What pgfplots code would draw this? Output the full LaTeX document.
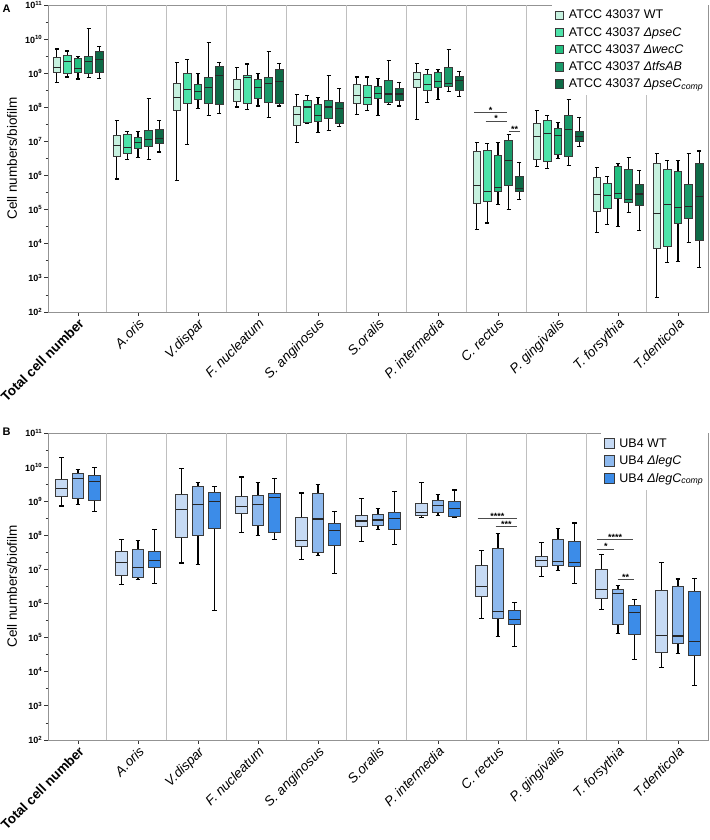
\documentclass[border=0pt]{standalone}
\usepackage{fontspec}
\setmainfont{Liberation Sans}
\usepackage{pgfplots}
\pgfplotsset{compat=1.18}
\usepgfplotslibrary{statistics}
\definecolor{cA1}{HTML}{C6F1DF}
\definecolor{cA2}{HTML}{4EE3AA}
\definecolor{cA3}{HTML}{22BF80}
\definecolor{cA4}{HTML}{1A9A6A}
\definecolor{cA5}{HTML}{0E6B47}
\definecolor{cB1}{HTML}{C6DAF4}
\definecolor{cB2}{HTML}{8EB9EE}
\definecolor{cB3}{HTML}{3C8CE8}
\definecolor{boxedge}{HTML}{3A3A3A}
% values are log10(cell numbers per biofilm)
\newcommand{\bxA}[7]{\addplot[forget plot, draw=boxedge, line width=0.9pt, fill=#2, boxplot prepared={draw direction=y, draw position=#1, lower whisker=#3, lower quartile=#4, median=#5, upper quartile=#6, upper whisker=#7, box extend=0.125, whisker extend=0.067}] coordinates {};}
\newcommand{\bxB}[7]{\addplot[forget plot, draw=boxedge, line width=0.9pt, fill=#2, boxplot prepared={draw direction=y, draw position=#1, lower whisker=#3, lower quartile=#4, median=#5, upper quartile=#6, upper whisker=#7, box extend=0.195, whisker extend=0.078}] coordinates {};}
\tikzset{
 sig/.style={draw=black!70, line width=0.7pt},
 star/.style={font=\bfseries\fontsize{9}{9}\selectfont, inner sep=0pt, anchor=base, yshift=-1pt},
}
\pgfplotsset{
 boxplot/every whisker/.style={draw=black, line width=1.1pt},
 boxplot/every median/.style={draw=black!85, line width=1.1pt},
 common/.style={
  scale only axis, width=660pt, height=307pt,
  xmin=-0.5, xmax=10.5, ymin=2, ymax=11,
  ytick={2,3,4,5,6,7,8,9,10,11},
  yticklabels={10\textsuperscript{2},10\textsuperscript{3},10\textsuperscript{4},10\textsuperscript{5},10\textsuperscript{6},10\textsuperscript{7},10\textsuperscript{8},10\textsuperscript{9},10\textsuperscript{10},10\textsuperscript{11}},
  minor y tick num=1,
  xtick={0,1,2,3,4,5,6,7,8,9,10},
  xticklabels={\textbf{Total cell number},\textit{A.oris},\textit{V.dispar},\textit{F. nucleatum},\textit{S. anginosus},\textit{S.oralis},\textit{P. intermedia},\textit{C. rectus},\textit{P. gingivalis},\textit{T. forsythia},\textit{T.denticola}},
  tick pos=left, tick align=outside,
  major tick length=4pt, minor tick length=2.5pt,
  axis line style={draw=gray!85, line width=0.9pt},
  every tick/.append style={black!80, line width=0.8pt},
  extra x ticks={0.467,1.467,2.467,3.467,4.467,5.467,6.467,7.467,8.467,9.467},
  extra x tick labels={},
  extra x tick style={grid=major, major tick length=0pt},
  major grid style={gray!50, line width=0.8pt},
  xticklabel style={font=\fontsize{13.5}{15}\selectfont, rotate=45, anchor=north east, inner sep=1pt},
  yticklabel style={font=\bfseries\fontsize{9}{10}\selectfont, inner sep=1.5pt},
  legend cell align=left,
  legend image code/.code={\draw[##1, line width=0.9pt] (0pt,-4pt) rectangle (8pt,4.5pt); \path (11.5pt,0pt);},
 },
}
\begin{document}
\begin{tikzpicture}
\useasboundingbox (0,0) rectangle (709pt,840pt);
%================ Panel A ================
\begin{axis}[common, at={(48pt,528pt)}, anchor=south west,
  legend style={at={(1,1)}, anchor=north east, draw=none, fill=white,
    font=\fontsize{12.5}{14}\selectfont, inner xsep=3pt, inner ysep=2pt, row sep=0pt,
    nodes={inner sep=1.5pt, text height=10.3pt, text depth=3.8pt}}]
\addlegendimage{fill=cA1, draw=boxedge}\addlegendentry{ATCC 43037 WT}
\addlegendimage{fill=cA2, draw=boxedge}\addlegendentry{ATCC 43037 \textit{ΔpseC}}
\addlegendimage{fill=cA3, draw=boxedge}\addlegendentry{ATCC 43037 \textit{ΔwecC}}
\addlegendimage{fill=cA4, draw=boxedge}\addlegendentry{ATCC 43037 \textit{ΔtfsAB}}
\addlegendimage{fill=cA5, draw=boxedge}\addlegendentry{ATCC 43037 \textit{ΔpseC}\textsubscript{\textit{comp}}}
% Total cell number
\bxA{-0.354}{cA1}{8.74}{9.02}{9.18}{9.47}{9.71}
\bxA{-0.177}{cA2}{8.89}{8.98}{9.34}{9.53}{9.65}
\bxA{0}{cA3}{8.83}{9.02}{9.13}{9.43}{9.48}
\bxA{0.177}{cA4}{8.87}{8.98}{9.35}{9.50}{10.32}
\bxA{0.354}{cA5}{8.85}{9.03}{9.41}{9.64}{9.77}
% A.oris
\bxA{0.646}{cA1}{5.90}{6.55}{6.89}{7.18}{7.61}
\bxA{0.823}{cA2}{6.46}{6.66}{6.81}{7.20}{7.30}
\bxA{1}{cA3}{6.53}{6.79}{6.97}{7.12}{7.29}
\bxA{1.177}{cA4}{6.47}{6.86}{7.06}{7.33}{8.25}
\bxA{1.354}{cA5}{6.69}{6.93}{7.09}{7.36}{7.61}
% V.dispar
\bxA{1.646}{cA1}{5.86}{7.91}{8.30}{8.69}{9.32}
\bxA{1.823}{cA2}{6.90}{8.12}{8.53}{8.98}{9.39}
\bxA{2}{cA3}{7.96}{8.22}{8.47}{8.67}{8.98}
\bxA{2.177}{cA4}{7.77}{8.11}{8.58}{8.88}{9.89}
\bxA{2.354}{cA5}{7.82}{8.09}{8.92}{9.21}{9.31}
% F. nucleatum
\bxA{2.646}{cA1}{8.01}{8.18}{8.53}{8.83}{9.16}
\bxA{2.823}{cA2}{7.94}{8.11}{8.87}{8.94}{9.27}
\bxA{3}{cA3}{8.04}{8.27}{8.59}{8.81}{8.98}
\bxA{3.177}{cA4}{7.69}{8.14}{8.71}{8.88}{9.64}
\bxA{3.354}{cA5}{8.04}{8.11}{8.76}{9.12}{9.28}
% S. anginosus
\bxA{3.646}{cA1}{6.96}{7.46}{7.80}{8.04}{8.37}
\bxA{3.823}{cA2}{7.52}{7.55}{8.01}{8.20}{8.34}
\bxA{4}{cA3}{7.27}{7.60}{7.76}{8.09}{8.28}
\bxA{4.177}{cA4}{7.32}{7.68}{8.01}{8.19}{8.92}
\bxA{4.354}{cA5}{7.43}{7.53}{7.96}{8.14}{8.54}
% S.oralis
\bxA{4.646}{cA1}{7.78}{8.10}{8.35}{8.67}{8.89}
\bxA{4.823}{cA2}{7.92}{8.09}{8.30}{8.64}{8.89}
\bxA{5}{cA3}{7.75}{8.26}{8.40}{8.62}{8.85}
\bxA{5.177}{cA4}{8.07}{8.14}{8.39}{8.79}{9.36}
\bxA{5.354}{cA5}{8.04}{8.20}{8.39}{8.56}{8.73}
% P. intermedia
\bxA{5.646}{cA1}{7.65}{8.59}{8.82}{9.02}{9.28}
\bxA{5.823}{cA2}{8.15}{8.50}{8.67}{8.95}{9.10}
\bxA{6}{cA3}{8.24}{8.58}{8.76}{9.02}{9.10}
\bxA{6.177}{cA4}{8.46}{8.61}{8.71}{9.18}{9.70}
\bxA{6.354}{cA5}{8.32}{8.50}{8.78}{8.91}{9.04}
% C. rectus
\bxA{6.646}{cA1}{4.42}{5.17}{5.70}{6.71}{6.97}
\bxA{6.823}{cA2}{4.61}{5.25}{5.53}{6.74}{6.93}
\bxA{7}{cA3}{5.16}{5.53}{5.64}{6.58}{6.98}
\bxA{7.177}{cA4}{5.00}{5.72}{6.45}{7.02}{7.20}
\bxA{7.354}{cA5}{5.31}{5.53}{5.62}{5.97}{6.39}
% P. gingivalis
\bxA{7.646}{cA1}{6.27}{6.46}{7.14}{7.52}{7.90}
\bxA{7.823}{cA2}{6.21}{6.42}{7.23}{7.62}{7.77}
\bxA{8}{cA3}{6.49}{6.62}{7.18}{7.37}{7.55}
\bxA{8.177}{cA4}{6.30}{6.57}{7.35}{7.77}{8.24}
\bxA{8.354}{cA5}{6.86}{7.00}{7.14}{7.28}{7.70}
% T. forsythia
\bxA{8.646}{cA1}{4.34}{4.94}{5.44}{5.95}{6.24}
\bxA{8.823}{cA2}{4.57}{5.05}{5.42}{5.77}{5.98}
\bxA{9}{cA3}{4.50}{5.34}{5.48}{6.27}{6.35}
\bxA{9.177}{cA4}{4.92}{5.20}{5.31}{6.19}{6.52}
\bxA{9.354}{cA5}{4.38}{5.11}{5.46}{5.75}{6.14}
% T.denticola
\bxA{9.646}{cA1}{2.43}{3.86}{4.90}{6.34}{6.64}
\bxA{9.823}{cA2}{3.46}{3.91}{5.16}{6.18}{6.43}
\bxA{10}{cA3}{3.48}{4.60}{5.06}{6.13}{6.44}
\bxA{10.177}{cA4}{4.04}{4.73}{5.09}{5.75}{6.65}
\bxA{10.354}{cA5}{3.30}{4.11}{5.39}{6.36}{6.72}
% significance
\draw[sig] (axis cs:6.605,7.84) -- (axis cs:7.145,7.84) node[midway, star] {*};
\draw[sig] (axis cs:6.795,7.60) -- (axis cs:7.145,7.60) node[midway, star] {*};
\draw[sig] (axis cs:7.183,7.30) -- (axis cs:7.367,7.30) node[midway, star] {**};
\end{axis}
%================ Panel B ================
\begin{axis}[common, at={(48pt,100pt)}, anchor=south west,
  legend style={at={(1,1)}, anchor=north east, draw=none, fill=white,
    font=\fontsize{12.5}{14}\selectfont, inner xsep=3pt, inner ysep=2pt, row sep=0pt,
    nodes={inner sep=1.5pt, text height=10.5pt, text depth=4pt}},
  legend image code/.code={\draw[#1, line width=0.9pt] (0pt,-5pt) rectangle (10pt,5.5pt); \path (13.5pt,0pt);}]
\addlegendimage{fill=cB1, draw=boxedge}\addlegendentry{UB4 WT}
\addlegendimage{fill=cB2, draw=boxedge}\addlegendentry{UB4 \textit{ΔlegC}}
\addlegendimage{fill=cB3, draw=boxedge}\addlegendentry{UB4 \textit{ΔlegC}\textsubscript{\textit{comp}}}
% Total cell number
\bxB{-0.275}{cB1}{8.86}{9.14}{9.36}{9.64}{10.28}
\bxB{0}{cB2}{8.90}{9.07}{9.67}{9.82}{9.94}
\bxB{0.275}{cB3}{8.70}{9.01}{9.58}{9.75}{10.00}
% A.oris
\bxB{0.725}{cB1}{6.55}{6.81}{7.20}{7.52}{7.89}
\bxB{1}{cB2}{6.71}{6.77}{7.05}{7.59}{7.86}
\bxB{1.275}{cB3}{6.59}{7.06}{7.27}{7.54}{8.17}
% V.dispar
\bxB{1.725}{cB1}{7.19}{7.95}{8.77}{9.21}{9.95}
\bxB{2}{cB2}{7.15}{8.01}{8.90}{9.42}{9.54}
\bxB{2.275}{cB3}{5.79}{8.20}{9.00}{9.25}{9.42}
% F. nucleatum
\bxB{2.725}{cB1}{8.07}{8.64}{8.85}{9.13}{9.71}
\bxB{3}{cB2}{7.99}{8.28}{8.90}{9.18}{9.54}
\bxB{3.275}{cB3}{7.89}{8.09}{9.12}{9.23}{9.66}
% S. anginosus
\bxB{3.725}{cB1}{7.30}{7.67}{7.84}{8.51}{9.24}
\bxB{4}{cB2}{7.42}{7.51}{8.48}{9.24}{9.50}
\bxB{4.275}{cB3}{6.87}{7.69}{8.13}{8.36}{8.71}
% S.oralis
\bxB{4.725}{cB1}{7.81}{8.26}{8.42}{8.59}{9.09}
\bxB{5}{cB2}{8.16}{8.30}{8.45}{8.61}{8.78}
\bxB{5.275}{cB3}{7.72}{8.17}{8.50}{8.67}{9.29}
% P. intermedia
\bxB{5.725}{cB1}{8.52}{8.59}{8.68}{8.94}{9.54}
\bxB{6}{cB2}{8.59}{8.67}{8.87}{9.01}{9.20}
\bxB{6.275}{cB3}{8.52}{8.54}{8.79}{8.98}{9.33}
% C. rectus
\bxB{6.725}{cB1}{5.57}{6.20}{6.50}{7.13}{7.56}
\bxB{7}{cB2}{5.04}{5.57}{5.78}{7.62}{8.05}
\bxB{7.275}{cB3}{4.73}{5.38}{5.54}{5.80}{6.02}
% P. gingivalis
\bxB{7.725}{cB1}{6.79}{7.10}{7.27}{7.38}{7.78}
\bxB{8}{cB2}{6.97}{7.13}{7.22}{7.89}{8.19}
\bxB{8.275}{cB3}{6.60}{7.08}{7.21}{7.81}{8.36}
% T. forsythia
\bxB{8.725}{cB1}{5.82}{6.15}{6.42}{7.01}{7.43}
\bxB{9}{cB2}{5.11}{5.40}{6.29}{6.42}{6.53}
\bxB{9.275}{cB3}{4.35}{5.08}{5.73}{5.93}{6.13}
% T.denticola
\bxB{9.725}{cB1}{4.13}{4.58}{5.06}{6.39}{7.20}
\bxB{10}{cB2}{4.53}{4.82}{5.05}{6.51}{6.72}
\bxB{10.275}{cB3}{3.60}{4.47}{4.88}{6.36}{6.74}
% significance
\draw[sig] (axis cs:6.66,8.49) -- (axis cs:7.317,8.49) node[midway, star] {****};
\draw[sig] (axis cs:6.96,8.26) -- (axis cs:7.32,8.26) node[midway, star] {***};
\draw[sig] (axis cs:8.655,7.89) -- (axis cs:9.25,7.89) node[midway, star] {****};
\draw[sig] (axis cs:8.655,7.60) -- (axis cs:8.94,7.60) node[midway, star] {*};
\draw[sig] (axis cs:8.995,6.70) -- (axis cs:9.26,6.70) node[midway, star] {**};
\end{axis}
% labels
\node[rotate=90, font=\fontsize{13.5}{15}\selectfont] at (12pt,681.5pt) {Cell numbers/biofilm};
\node[rotate=90, font=\fontsize{13.5}{15}\selectfont] at (12pt,253.6pt) {Cell numbers/biofilm};
\node[font=\bfseries\fontsize{11}{12}\selectfont] at (6.5pt,831.5pt) {A};
\node[font=\bfseries\fontsize{11}{12}\selectfont] at (6.5pt,408.5pt) {B};
\end{tikzpicture}
\end{document}
